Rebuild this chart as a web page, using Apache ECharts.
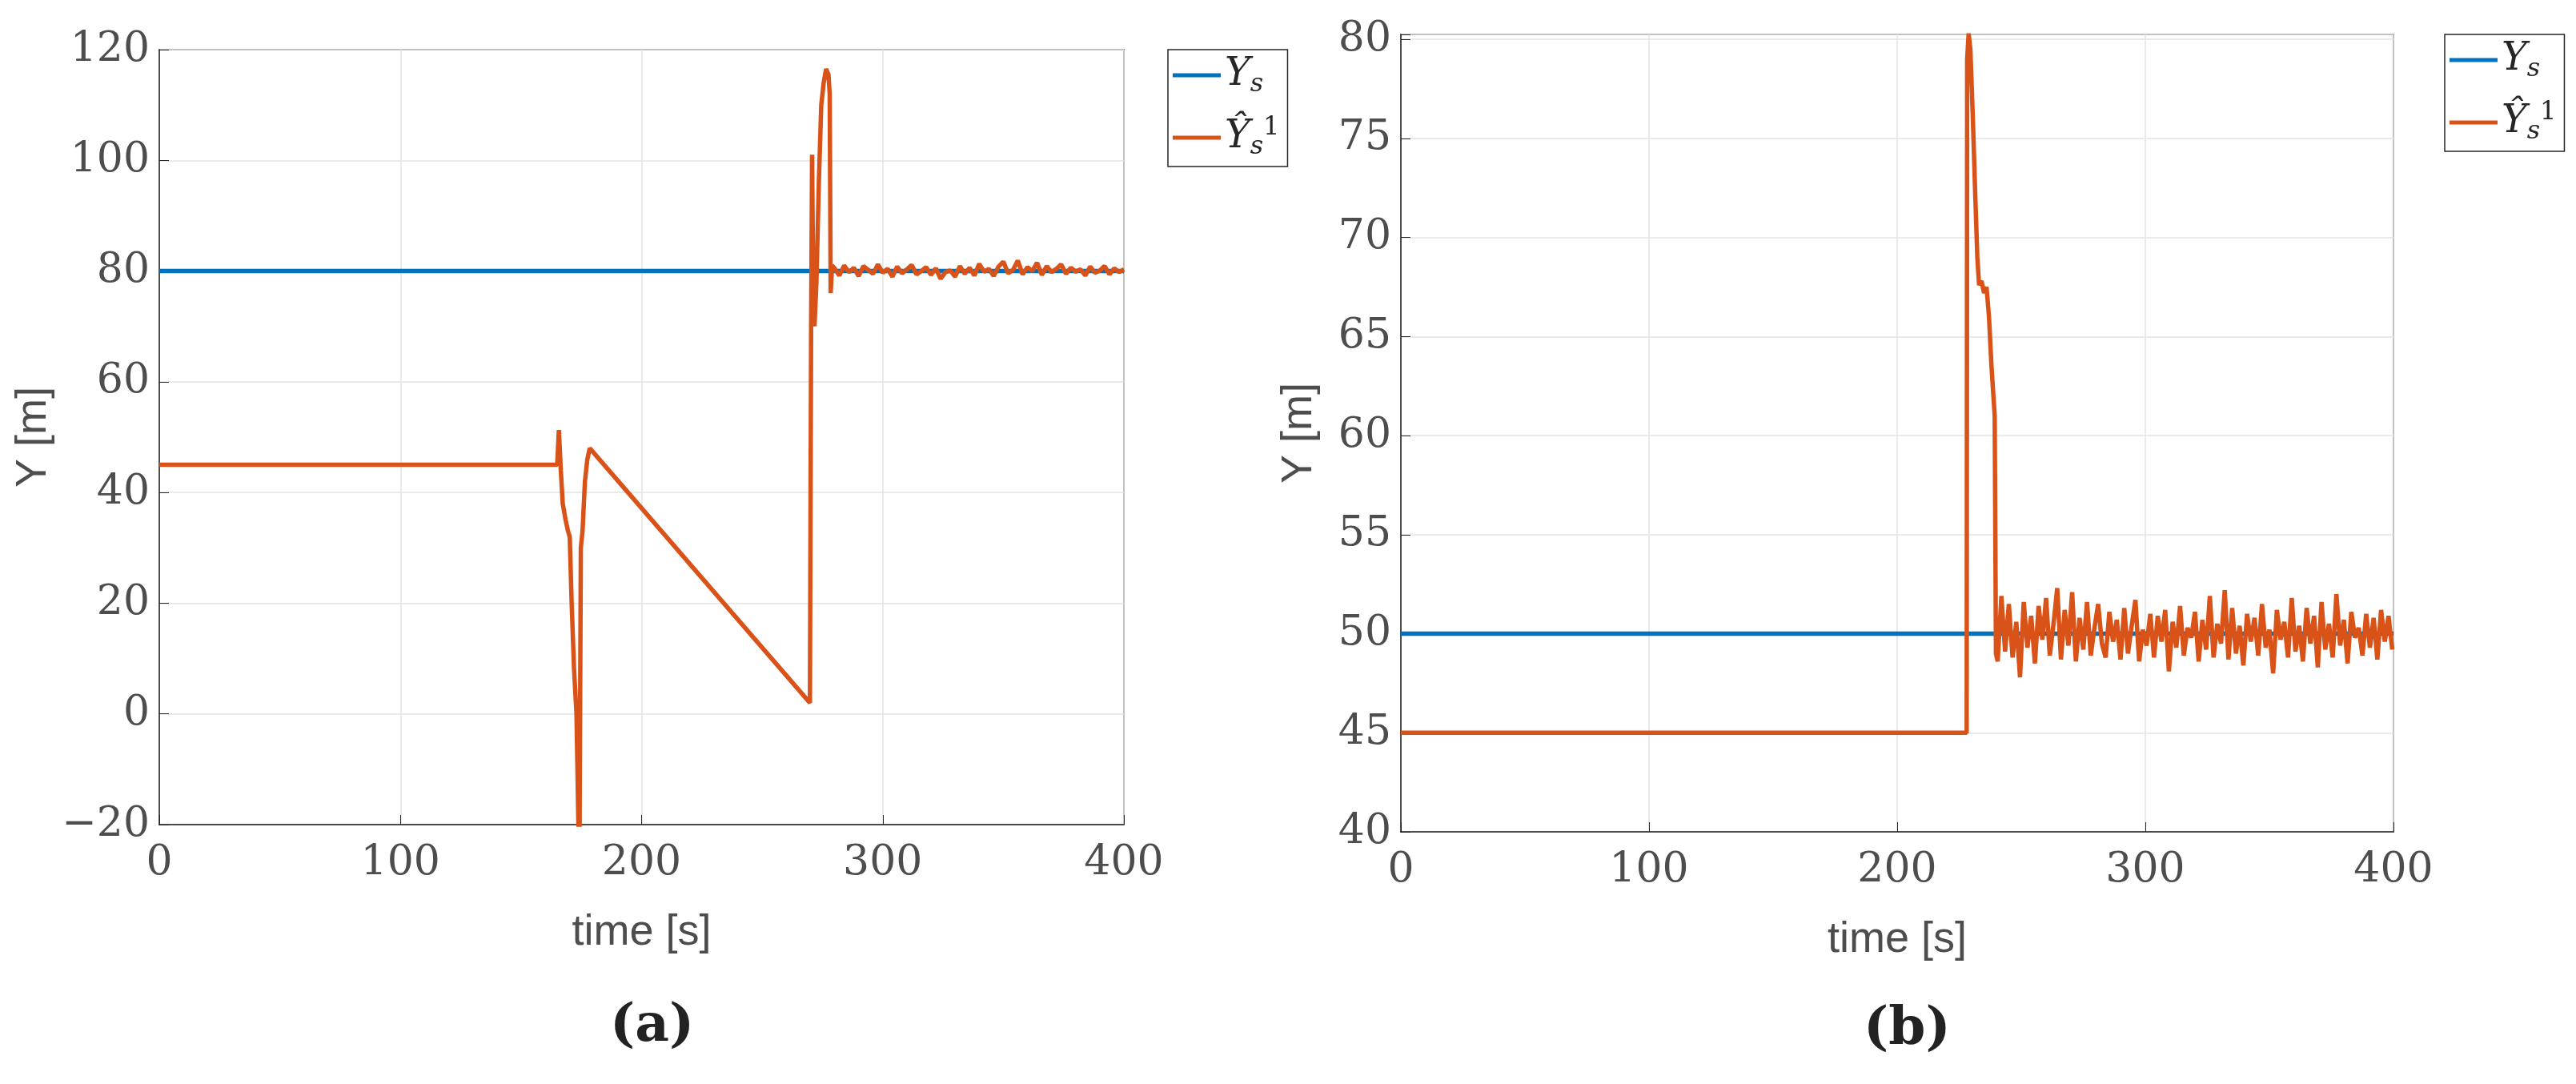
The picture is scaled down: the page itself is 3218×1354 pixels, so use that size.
<!DOCTYPE html>
<html>
<head>
<meta charset="utf-8">
<script src="https://cdn.jsdelivr.net/npm/echarts@6/dist/echarts.min.js"></script>
<style>
  html, body { margin: 0; padding: 0; background: #fff; }
  #chart { width: 3218px; height: 1354px; }
</style>
</head>
<body>
<div id="chart"></div>
<script>
// (a) reference Ys and estimate before the noisy part
const refA = [[0, 80], [400, 80]];
const estA = [[0, 45], [165, 45], [165.7, 51.3], [166.5, 44], [167.3, 38], [168.5, 35], [169.5, 33], [170.2, 32],
  [171, 20], [172, 8], [173, 0], [174.2, -30], [174.8, 30], [175.5, 33], [176.5, 42], [177.5, 46], [178.5, 48],
  [269.8, 2], [270.3, 70], [270.7, 101], [271.2, 75], [271.7, 70], [272.5, 78], [273.5, 96], [274.5, 110],
  [275.5, 114], [276.5, 116.5], [277.5, 115.5], [278, 112], [278.4, 76], [279, 81]];
// (a) noisy tail, one value every 2 s from 280 s
const noiseStartA = 280, noiseStepA = 2;
const noiseA = [80.5, 79.2, 81.0, 79.8, 80.6, 79.1, 80.9, 80.2, 79.5, 81.2, 79.7, 80.4, 79.0, 80.8, 79.6, 80.3,
  81.1, 79.4, 80.0, 80.7, 79.3, 80.5, 78.6, 79.8, 80.1, 79.0, 80.9, 79.5, 80.6, 79.2, 81.3, 79.9, 80.4, 79.1,
  80.8, 81.7, 79.6, 80.2, 81.9, 79.4, 80.7, 80.0, 81.5, 79.3, 80.9, 79.8, 80.4, 81.2, 79.5, 80.6, 79.9, 80.3,
  79.2, 80.8, 79.7, 80.1, 80.9, 79.4, 80.5, 79.8, 80.3];

// (b)
const refB = [[0, 50], [400, 50]];
const estB = [[0, 45], [228, 45], [228.2, 79], [228.8, 80.3], [229.5, 79.5], [230.5, 76], [231.5, 72],
  [232.3, 69], [233, 67.6], [234, 67.8], [235, 67.2], [236, 67.5], [237, 66], [238, 63.5], [239.3, 61],
  [239.8, 49]];
// (b) noisy tail, one value every 1.5 s from 240.5 s
const noiseStartB = 240.5, noiseStepB = 1.5;
const noiseB = [48.6, 51.9, 49.1, 51.5, 48.8, 50.6, 47.8, 51.6, 49.3, 50.9, 48.5, 51.4, 49.7, 51.8, 48.9,
  50.5, 52.3, 48.7, 51.2, 49.4, 52.1, 48.6, 50.8, 49.2, 51.6, 48.9, 50.3, 51.5, 49.5, 48.8, 51.1, 49.6, 50.7,
  48.7, 51.3, 49.0, 50.4, 51.7, 48.6, 50.2, 49.4, 51.0, 48.8, 50.9, 49.6, 51.2, 48.1, 50.6, 49.3, 51.4, 48.9,
  50.3, 49.8, 51.1, 48.6, 50.7, 49.2, 51.9, 48.8, 50.5, 49.5, 52.2, 48.7, 51.3, 49.0, 50.4, 48.4, 51.0, 49.6,
  50.8, 48.9, 51.5, 49.3, 50.2, 48.0, 51.2, 49.7, 50.6, 48.8, 51.8, 49.1, 50.4, 48.6, 51.3, 49.5, 50.9, 48.3,
  51.6, 49.2, 50.5, 48.8, 52.0, 49.4, 50.7, 48.5, 51.1, 49.8, 50.3, 48.9, 51.0, 49.3, 50.8, 48.7, 51.2, 49.6,
  50.9, 49.2];

function withNoise(head, start, step, vals) {
  const out = head.slice();
  vals.forEach((v, i) => out.push([start + i * step, v]));
  return out;
}

const grey = '#4d4d4d';
const serif = '"DejaVu Serif", "Liberation Serif", serif';
const sans = '"Liberation Sans", Arial, sans-serif';

function xAxis(gi) {
  return {
    gridIndex: gi, type: 'value', min: 0, max: 400, interval: 100,
    name: 'time [s]', nameLocation: 'middle', nameGap: 108,
    nameTextStyle: { fontFamily: sans, fontSize: 54, color: grey },
    axisLine: { onZero: false, lineStyle: { color: '#262626', width: 1.5 } },
    axisTick: { inside: true, length: 12, lineStyle: { color: '#262626' } },
    axisLabel: { fontFamily: serif, fontSize: 52, color: grey, margin: 22 },
    splitLine: { lineStyle: { color: '#e3e3e3', width: 1.5 } },
  };
}
function yAxis(gi, min, max, interval, gap) {
  return {
    gridIndex: gi, type: 'value', min, max, interval,
    name: 'Y [m]', nameLocation: 'middle', nameGap: gap,
    nameTextStyle: { fontFamily: sans, fontSize: 54, color: grey },
    axisLine: { onZero: false, lineStyle: { color: '#262626', width: 1.5 } },
    axisTick: { inside: true, length: 12, lineStyle: { color: '#262626' } },
    axisLabel: {
      fontFamily: serif, fontSize: 52, color: grey, margin: 12,
      formatter: (v) => (v % interval === 0 ? String(v).replace('-', '\u2212') : ''),
    },
    splitLine: { lineStyle: { color: '#e3e3e3', width: 1.5 } },
  };
}

const rich = {
  i: { fontFamily: serif, fontStyle: 'italic', fontSize: 48, color: '#262626' },
  s: { fontFamily: serif, fontStyle: 'italic', fontSize: 32, color: '#262626', padding: [24, 0, 0, 0] },
  u: { fontFamily: serif, fontSize: 32, color: '#262626', padding: [0, 0, 24, 0] },
};
function legend(left, top) {
  return {
    left, top, orient: 'vertical', data: ['Ys', 'Yhat'],
    itemWidth: 60, itemHeight: 5, itemGap: 22,
    padding: [8, 10, 8, 6], borderColor: '#262626', borderWidth: 1.5,
    backgroundColor: '#fff',
    icon: 'rect',
    formatter: (n) => (n === 'Ys' ? '{i|Y}{s|s}' : '{i|\u0176}{s|s}{u|1}'),
    textStyle: { rich },
  };
}

function line(name, color, xi, data, z) {
  return {
    name, type: 'line', xAxisIndex: xi, yAxisIndex: xi, data,
    showSymbol: false, color, z, clip: true,
    lineStyle: { color, width: 5.5 },
  };
}

const chart = echarts.init(document.getElementById('chart'));
chart.setOption({
  backgroundColor: '#fff',
  animation: false,
  grid: [
    { left: 199, right: 1814, top: 62, bottom: 324, show: true, borderColor: '#262626', borderWidth: 1.5 },
    { left: 1750, right: 228, top: 43, bottom: 315, show: true, borderColor: '#262626', borderWidth: 1.5 },
  ],
  xAxis: [xAxis(0), xAxis(1)],
  yAxis: [yAxis(0, -20, 120, 20, 130), yAxis(1, 40, 80.25, 5, 100)],
  legend: [legend(1459, 62), legend(3054, 43)],
  series: [
    line('Ys', '#0072BD', 0, refA, 2),
    line('Yhat', '#D95319', 0, withNoise(estA, noiseStartA, noiseStepA, noiseA), 3),
    line('Ys', '#0072BD', 1, refB, 2),
    line('Yhat', '#D95319', 1, withNoise(estB, noiseStartB, noiseStepB, noiseB), 3),
  ],
  graphic: [
    { type: 'text', left: 806 - 44, top: 1250, style: { text: '(a)', font: 'bold 66px ' + serif, fill: '#222' } },
    { type: 'text', left: 2372 - 44, top: 1254, style: { text: '(b)', font: 'bold 66px ' + serif, fill: '#222' } },
  ],
});
</script>
</body>
</html>
